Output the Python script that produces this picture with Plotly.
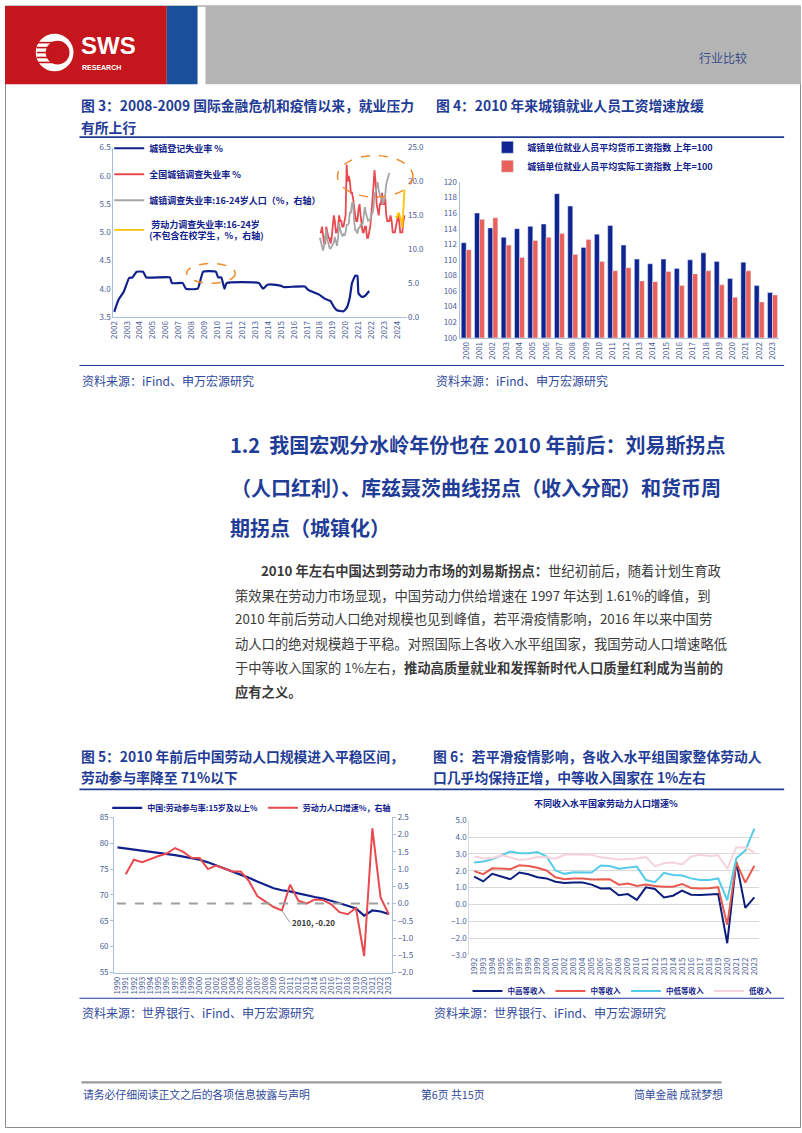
import pandas as pd
import plotly.graph_objects as go

W, H = 802, 1133
def px(x): return x / W
def py(y): return 1 - y / H

FONT = "Noto Sans CJK SC"
NAVY = "#10218b"
RED = "#e84a50"
TITLE_BLUE = "#1f3c96"
TEXT_BLUE = "#2f4a9a"
TICK = "#4b5d95"
AXIS = "#a9bfe0"

# ---------------- Chart 1 data ----------------
reg_dates = ["2002-01", "2002-05", "2002-10", "2003-03", "2003-06", "2003-10", "2004-04", "2004-07",
             "2006-05", "2006-07", "2007-05", "2007-08", "2008-07", "2008-12", "2009-12", "2010-02",
             "2010-05", "2010-08", "2010-10", "2013-04", "2013-08", "2013-12", "2014-08", "2015-01",
             "2015-03", "2016-11", "2017-02", "2017-12", "2018-06", "2018-11", "2019-02", "2019-05",
             "2019-11", "2020-02", "2020-05", "2020-07", "2020-10", "2020-12", "2021-01", "2021-04",
             "2021-07", "2021-11"]
reg_rate = [3.59, 3.80, 3.95, 4.19, 4.20, 4.30, 4.30, 4.20,
            4.20, 4.10, 4.10, 4.00, 4.00, 4.30, 4.30, 4.20,
            4.20, 4.00, 4.10, 4.10, 4.00, 4.07, 4.07, 4.05,
            4.03, 4.04, 3.98, 3.90, 3.82, 3.78, 3.68, 3.62,
            3.60, 3.66, 3.85, 4.10, 4.23, 4.23, 3.92, 3.86,
            3.87, 3.96]

survey_rate = [5.0, 5.0, 5.1, 4.9, 4.8, 4.8, 5.1, 5.0, 4.9, 4.9, 4.8, 4.9,
               5.1, 5.3, 5.2, 5.0, 5.0, 5.1, 5.3, 5.2, 5.2, 5.1, 5.1, 5.2,
               5.3, 6.2, 5.9, 6.0, 5.9, 5.7, 5.7, 5.6, 5.4, 5.3, 5.2, 5.2,
               5.4, 5.5, 5.3, 5.1, 5.0, 5.0, 5.1, 5.1, 4.9, 4.9, 5.0, 5.1,
               5.3, 5.5, 5.8, 6.1, 5.9, 5.5, 5.4, 5.3, 5.5, 5.5, 5.7, 5.5,
               5.5, 5.6, 5.3, 5.2, 5.2, 5.2, 5.3, 5.2, 5.0, 5.0, 5.0, 5.1,
               5.2, 5.3, 5.2, 5.0, 5.0, 5.0, 5.2, 5.3]
survey_start = "2018-01-01"

youth_rate = [11.7, 11.0, 10.1, 9.8, 10.5, 12.3, 12.9, 11.5, 10.8, 10.2, 10.1, 10.4,
              10.7, 11.0, 11.8, 11.3, 10.5, 11.6, 13.9, 12.9, 12.5, 11.9, 12.2, 12.0,
              12.5, 13.6, 13.6, 13.8, 15.4, 15.4, 16.8, 16.8, 14.2, 12.8, 12.8, 12.3,
              13.1, 13.1, 13.6, 13.6, 13.8, 15.4, 16.2, 15.3, 14.6, 14.2, 14.3, 14.3,
              15.3, 15.3, 16.0, 18.2, 18.4, 19.3, 19.9, 18.7, 17.9, 17.9, 17.1, 16.7,
              17.3, 18.1, 19.6, 20.4, 20.8, 21.3]
youth_start = "2018-01-01"

youth_ex_rate = [14.9, 14.6, 15.3, 15.3, 14.7, 14.2, 13.2, 17.1, 18.8]
youth_ex_start = "2023-12-01"

years1 = list(range(2002, 2025))

# ---------------- Chart 2 data ----------------
wage_years = [str(y) for y in range(2000, 2024)]
wage_nominal = [112.2, 116.0, 114.1, 112.9, 114.0, 114.3, 114.6, 118.5, 116.9, 111.6, 113.3, 114.4,
                111.9, 110.1, 109.5, 110.1, 108.9, 110.0, 110.9, 109.8, 107.6, 109.7, 106.7, 105.8]
wage_real = [111.3, 115.2, 115.4, 111.9, 110.3, 112.5, 112.9, 113.4, 110.7, 112.6, 109.8, 108.6,
             109.0, 107.3, 107.2, 108.5, 106.7, 108.2, 108.6, 106.8, 105.2, 108.6, 104.6, 105.5]

# ---------------- Chart 3 data ----------------
lf_years = list(range(1990, 2024))
lfpr = [79.2, 79.0, 78.8, 78.6, 78.4, 78.2, 78.0, 77.7, 77.4, 77.1, 76.8, 76.3, 75.7, 75.2, 74.6, 74.0,
        73.3, 72.6, 71.9, 71.3, 70.9, 70.7, 70.3, 69.9, 69.6, 69.3, 68.9, 68.4, 67.9, 67.4, 66.0, 67.0,
        66.8, 66.3]
lf_growth_years = list(range(1991, 2024))
lf_growth = [0.85, 1.27, 1.20, 1.30, 1.38, 1.45, 1.61, 1.50, 1.33, 1.32, 1.00, 1.10, 1.02, 0.93, 0.93,
             0.65, 0.22, 0.05, -0.10, -0.20, 0.55, 0.08, 0.00, 0.12, 0.10, -0.02, -0.25, -0.31, -0.13,
             -1.52, 2.18, 0.18, -0.31]

# ---------------- Chart 4 data ----------------
inc_years = list(range(1992, 2024))
upper_mid = [1.65, 1.37, 1.82, 1.65, 1.50, 1.90, 1.80, 1.62, 1.55, 1.35, 1.27, 1.30, 1.30, 1.18, 0.95, 0.97,
             0.55, 0.62, 0.27, 1.02, 0.92, 0.42, 0.52, 0.83, 0.58, 0.57, 0.58, 0.62, -2.30, 2.55, -0.20, 0.42]
middle = [1.98, 1.80, 2.15, 2.12, 2.10, 2.33, 2.28, 2.18, 2.02, 1.62, 1.50, 1.55, 1.55, 1.48, 1.50, 1.50,
          1.18, 1.25, 1.10, 1.18, 1.10, 1.05, 1.05, 1.22, 0.98, 0.95, 0.97, 1.03, -1.20, 2.50, 1.30, 2.30]
lower_mid = [2.50, 2.55, 2.68, 2.90, 3.15, 3.05, 3.05, 3.12, 2.85, 2.02, 1.82, 1.92, 1.93, 1.90, 2.32, 2.28,
             2.12, 2.20, 2.25, 1.45, 1.32, 1.88, 1.75, 1.72, 1.55, 1.45, 1.45, 1.55, 0.25, 2.75, 3.20, 4.50]
low = [2.85, 2.75, 2.75, 2.92, 2.80, 2.65, 2.70, 2.82, 2.80, 2.72, 2.95, 2.98, 2.95, 2.95, 2.80, 2.72,
       2.68, 2.70, 2.73, 2.82, 2.28, 2.45, 2.50, 2.38, 2.85, 2.95, 2.88, 2.92, 2.12, 3.40, 3.38, 3.10]

# ---------------- Figure ----------------
fig = go.Figure()

survey_dates = pd.date_range(survey_start, periods=len(survey_rate), freq="MS")
youth_dates = pd.date_range(youth_start, periods=len(youth_rate), freq="MS")
youth_ex_dates = pd.date_range(youth_ex_start, periods=len(youth_ex_rate), freq="MS")

fig.add_trace(go.Scatter(x=pd.to_datetime(reg_dates), y=reg_rate, mode="lines", name="城镇登记失业率 %",
                         line=dict(color=NAVY, width=2.2, shape="spline", smoothing=0.4),
                         xaxis="x", yaxis="y", legend="legend", legendgroup="a1"))
fig.add_trace(go.Scatter(x=survey_dates, y=survey_rate, mode="lines", name="全国城镇调查失业率 %",
                         line=dict(color=RED, width=1.8), xaxis="x", yaxis="y", legend="legend", legendgroup="a2"))
fig.add_trace(go.Scatter(x=youth_dates, y=youth_rate, mode="lines", name="城镇调查失业率:16-24岁人口（%，右轴）",
                         line=dict(color="#a6a6a6", width=1.8), xaxis="x", yaxis="y2", legend="legend", legendgroup="a3"))
fig.add_trace(go.Scatter(x=youth_ex_dates, y=youth_ex_rate, mode="lines",
                         name=" 劳动力调查失业率:16-24岁<br>(不包含在校学生，%，右轴)",
                         line=dict(color="#ffc000", width=1.8), xaxis="x", yaxis="y2", legend="legend", legendgroup="a4"))

fig.add_trace(go.Bar(x=wage_years, y=wage_nominal, name="城镇单位就业人员平均货币工资指数 上年=100",
                     marker_color="#0f2490", xaxis="x2", yaxis="y3", legend="legend2"))
fig.add_trace(go.Bar(x=wage_years, y=wage_real, name="城镇单位就业人员平均实际工资指数 上年=100",
                     marker_color="#e8615a", xaxis="x2", yaxis="y3", legend="legend2"))

fig.add_trace(go.Scatter(x=lf_years, y=lfpr, mode="lines", name="中国:劳动参与率:15岁及以上%",
                         line=dict(color=NAVY, width=2.2), xaxis="x3", yaxis="y4", legend="legend3"))
fig.add_trace(go.Scatter(x=lf_growth_years, y=lf_growth, mode="lines", name="劳动力人口增速%，右轴",
                         line=dict(color=RED, width=2), xaxis="x3", yaxis="y5", legend="legend3"))

for name, vals, col in [("中高等收入", upper_mid, "#0d1e7d"), ("中等收入", middle, "#e85a4f"),
                        ("中低等收入", lower_mid, "#56cbe9"), ("低收入", low, "#f5d3da")]:
    fig.add_trace(go.Scatter(x=inc_years, y=vals, mode="lines", name=name,
                             line=dict(color=col, width=2), xaxis="x4", yaxis="y6", legend="legend4"))

tickfont = dict(family=FONT, size=8, color=TICK)
ax_common = dict(showgrid=False, zeroline=False, tickfont=tickfont)

fig.update_layout(
    width=W, height=H, margin=dict(l=0, r=0, t=0, b=0),
    paper_bgcolor="white", plot_bgcolor="white",
    font=dict(family=FONT, color=NAVY),
    barmode="group", bargap=0.25, bargroupgap=0.0,
    xaxis=dict(domain=[px(109), px(405)], anchor="y", type="date",
               range=["2001-12-03", "2024-10-10"],
               tickvals=[f"{y}-01-01" for y in years1], ticktext=[str(y) for y in years1],
               tickangle=-90, showline=True, linecolor=AXIS, linewidth=1, **ax_common),
    yaxis=dict(domain=[py(314), py(143)], anchor="x", range=[3.5, 6.5], dtick=0.5, tickformat=".1f",
               showline=True, linecolor=AXIS, linewidth=1, **ax_common),
    yaxis2=dict(overlaying="y", side="right", anchor="x", range=[0, 25], dtick=5, tickformat=".1f",
                showline=False, **ax_common),
    xaxis2=dict(domain=[px(458), px(780)], anchor="y3", type="category", tickangle=-90,
                showline=True, linecolor=AXIS, linewidth=1, **ax_common),
    yaxis3=dict(domain=[py(335), py(177.7)], anchor="x2", range=[100, 120], dtick=2,
                showline=True, linecolor=AXIS, linewidth=1, **ax_common),
    xaxis3=dict(domain=[px(110), px(390)], anchor="y4", range=[1989.6, 2023.4],
                tickvals=lf_years, ticktext=[str(y) for y in lf_years], tickangle=-90,
                showline=True, linecolor=AXIS, linewidth=1, **ax_common),
    yaxis4=dict(domain=[py(976), py(819.3)], anchor="x3", range=[55, 85], dtick=5,
                showline=True, linecolor=AXIS, linewidth=1, ticks="outside", ticklen=3, tickcolor=AXIS,
                **ax_common),
    yaxis5=dict(overlaying="y4", side="right", anchor="x3", range=[-2, 2.5], dtick=0.5, tickformat=".1f",
                showline=True, linecolor=AXIS, linewidth=1, ticks="outside", ticklen=3, tickcolor=AXIS,
                **ax_common),
    xaxis4=dict(domain=[px(467.7), px(760)], anchor="y6", range=[1991.45, 2023.55],
                tickvals=inc_years, ticktext=[str(y) for y in inc_years], tickangle=-90,
                showline=False, **ax_common),
    yaxis6=dict(domain=[py(958.3), py(822.3)], anchor="x4", range=[-3, 5], dtick=1, tickformat=".1f",
                showgrid=True, gridcolor="#d9d9d9", gridwidth=1, zeroline=False, tickfont=tickfont,
                showline=True, linecolor="#d9d9d9"),
    legend=dict(x=px(105), y=py(129), xanchor="left", yanchor="top", bgcolor="rgba(0,0,0,0)",
                font=dict(family=FONT, size=9, color=NAVY, weight="bold"), tracegroupgap=7,
                traceorder="grouped"),
    legend2=dict(x=px(486), y=py(128), xanchor="left", yanchor="top", bgcolor="rgba(0,0,0,0)",
                 font=dict(family=FONT, size=9, color=NAVY, weight="bold"), tracegroupgap=0,
                 itemwidth=30),
    legend3=dict(x=px(103), y=py(795), xanchor="left", yanchor="top", orientation="h",
                 bgcolor="rgba(0,0,0,0)", font=dict(family=FONT, size=8, color=NAVY, weight="bold")),
    legend4=dict(x=px(466), y=py(980), xanchor="left", yanchor="top", orientation="h",
                 bgcolor="rgba(0,0,0,0)", font=dict(family=FONT, size=7.5, color=NAVY, weight="bold")),
)

shapes = []
# page border
shapes.append(dict(type="rect", xref="paper", yref="paper", x0=px(0.5), x1=px(801.5), y0=py(1132.5), y1=py(0),
                   line=dict(color="#8a8a8a", width=1), fillcolor="rgba(0,0,0,0)", layer="below"))
# header blocks
shapes.append(dict(type="rect", xref="paper", yref="paper", x0=0, x1=px(163), y0=py(79), y1=1,
                   fillcolor="#c4161c", line=dict(width=0)))
shapes.append(dict(type="rect", xref="paper", yref="paper", x0=px(163), x1=px(194), y0=py(79), y1=1,
                   fillcolor="#1a4f9c", line=dict(width=0)))
shapes.append(dict(type="rect", xref="paper", yref="paper", x0=px(202), x1=1, y0=py(79), y1=1,
                   fillcolor="#b4b4b4", line=dict(width=0)))
# logo emblem
shapes.append(dict(type="circle", xref="paper", yref="paper", x0=px(31), x1=px(69), y0=py(66), y1=py(28),
                   fillcolor="white", line=dict(width=0)))
shapes.append(dict(type="circle", xref="paper", yref="paper", x0=px(41), x1=px(65), y0=py(59), y1=py(35),
                   fillcolor="#c4161c", line=dict(width=0)))
for yy in [37, 42, 47, 52, 57]:
    shapes.append(dict(type="line", xref="paper", yref="paper", x0=px(32), x1=px(50), y0=py(yy), y1=py(yy),
                       line=dict(color="#c4161c", width=1.6)))
# rules
for yy, w in [(132.5, 1.8), (363, 1.0), (791, 1.8), (1002, 1.0)]:
    shapes.append(dict(type="line", xref="paper", yref="paper", x0=px(75), x1=px(785), y0=py(yy), y1=py(yy),
                       line=dict(color=TITLE_BLUE, width=w)))
shapes.append(dict(type="line", xref="paper", yref="paper", x0=px(77), x1=px(722), y0=py(1087), y1=py(1087),
                   line=dict(color="#9a9a9a", width=2.2)))
# chart1 highlight ellipses
shapes.append(dict(type="circle", xref="paper", yref="paper", x0=px(183), x1=px(232), y0=py(280), y1=py(260),
                   line=dict(color="#f08c2c", width=1.5, dash="dash")))
shapes.append(dict(type="circle", xref="paper", yref="paper", x0=px(335), x1=px(411), y0=py(193), y1=py(151),
                   line=dict(color="#f08c2c", width=1.5, dash="dash")))
# chart3 zero line
shapes.append(dict(type="line", xref="x3 domain", yref="y5", x0=0.01, x1=0.99, y0=0, y1=0,
                   line=dict(color="#9e9e9e", width=2, dash="dash")))
fig.update_layout(shapes=shapes)

ann = []
def txt(x, y, s, size, color, bold=False, xanchor="left", family=FONT):
    ann.append(dict(xref="paper", yref="paper", x=px(x), y=py(y), xanchor=xanchor, yanchor="middle",
                    showarrow=False, text=(f"<b>{s}</b>" if bold else s),
                    font=dict(family=family, size=size, color=color)))

# header
txt(75, 40, "SWS", 24, "white", bold=True, family="Liberation Sans")
txt(76, 62, "RESEARCH", 7, "white", bold=True, family="Liberation Sans")
txt(697, 52, "行业比较", 12, "#3a4e8c")
# figure titles
txt(75, 100, "图 3：2008-2009 国际金融危机和疫情以来，就业压力", 13.8, TITLE_BLUE, bold=True)
txt(75, 122, "有所上行", 13.8, TITLE_BLUE, bold=True)
txt(432, 100, "图 4：2010 年来城镇就业人员工资增速放缓", 13.8, TITLE_BLUE, bold=True)
txt(76, 378, "资料来源：iFind、申万宏源研究", 12, TEXT_BLUE)
txt(432, 378, "资料来源：iFind、申万宏源研究", 12, TEXT_BLUE)
# section heading
txt(225, 443, "1.2  我国宏观分水岭年份也在 2010 年前后：刘易斯拐点", 20, TITLE_BLUE, bold=True)
txt(226, 486, "（人口红利）、库兹聂茨曲线拐点（收入分配）和货币周", 20, TITLE_BLUE, bold=True)
txt(225, 527, "期拐点（城镇化）", 20, TITLE_BLUE, bold=True)
# paragraph
PC = "#3a3a3a"
para = [
    (256, 570, "<b>2010 年左右中国达到劳动力市场的刘易斯拐点：</b>世纪初前后，随着计划生育政"),
    (230, 595, "策效果在劳动力市场显现，中国劳动力供给增速在 1997 年达到 1.61%的峰值，到"),
    (230, 619, "2010 年前后劳动人口绝对规模也见到峰值，若平滑疫情影响，2016 年以来中国劳"),
    (230, 644, "动人口的绝对规模趋于平稳。对照国际上各收入水平组国家，我国劳动人口增速略低"),
    (230, 668, "于中等收入国家的 1%左右，<b>推动高质量就业和发挥新时代人口质量红利成为当前的</b>"),
    (230, 692, "<b>应有之义。</b>"),
]
for x, y, s in para:
    txt(x, y, s, 13.3, PC)
# figure 5/6 titles
txt(75, 757, "图 5：2010 年前后中国劳动人口规模进入平稳区间，", 13.8, TITLE_BLUE, bold=True)
txt(75, 779, "劳动参与率降至 71%以下", 13.8, TITLE_BLUE, bold=True)
txt(429, 757, "图 6：若平滑疫情影响，各收入水平组国家整体劳动人", 13.8, TITLE_BLUE, bold=True)
txt(429, 779, "口几乎均保持正增，中等收入国家在 1%左右", 13.8, TITLE_BLUE, bold=True)
# chart4 title
txt(606, 805, "不同收入水平国家劳动力人口增速%", 9, NAVY, bold=True, xanchor="center")
# sources
txt(76, 1016, "资料来源：世界银行、iFind、申万宏源研究", 12, TEXT_BLUE)
txt(430, 1016, "资料来源：世界银行、iFind、申万宏源研究", 12, TEXT_BLUE)
# footer
txt(77, 1099, "请务必仔细阅读正文之后的各项信息披露与声明", 10.8, TEXT_BLUE)
txt(451, 1099, "第6页 共15页", 10.8, TEXT_BLUE, xanchor="center")
txt(725, 1099, "简单金融 成就梦想", 10.8, TEXT_BLUE, xanchor="right")

# chart3 data label
ann.append(dict(xref="x3", yref="y5", x=2010, y=-0.20, text="<b>2010, -0.20</b>", showarrow=True,
                arrowhead=0, arrowwidth=1, arrowcolor="#9e9e9e", ax=8, ay=12, xanchor="left", yanchor="middle",
                font=dict(family=FONT, size=8, color="#333333")))
fig.update_layout(annotations=ann)

fig.write_html("out.html")
